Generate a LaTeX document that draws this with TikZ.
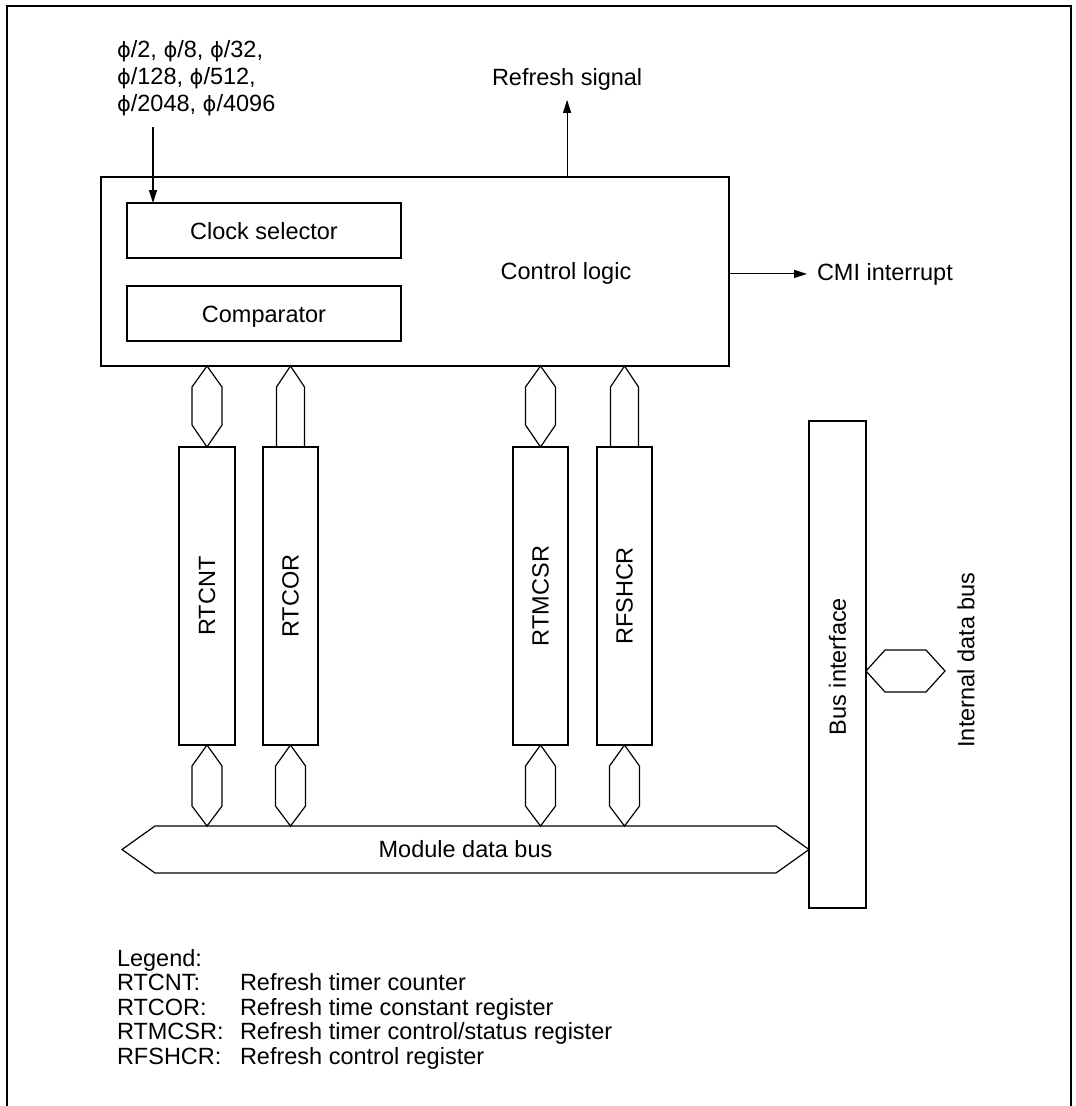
\documentclass[tikz,border=0pt]{standalone}
\usepackage{fontspec}
\setmainfont{Liberation Sans}
\newfontfamily\phifont{DejaVu Sans}
\usetikzlibrary{arrows.meta,calc}
\newcommand{\ph}{{\phifont\fontsize{21}{27}\selectfont ϕ}}
\begin{document}
\begin{tikzpicture}[x=1pt,y=-1pt,line width=1.2pt,
  box/.style={draw,line width=1.2pt,inner sep=0,outer sep=0,anchor=north west},
  txt/.style={inner sep=0,outer sep=0,font=\fontsize{23.5}{27}\selectfont},
  arr/.style={-{Triangle[length=13pt,width=8pt]},line width=1.1pt},
  bus/.style={draw,line width=1.2pt,line join=miter}]
\useasboundingbox (0,0) rectangle (1076,1106);
% frame
\draw[line width=2.4pt] (7,1106) -- (7,6) -- (1071,6) -- (1071,1106);

% boxes
\node[box,minimum width=628,minimum height=189] (ctl) at (101,177) {};
\node[box,minimum width=274,minimum height=55] (clk) at (127,203) {};
\node[box,minimum width=274,minimum height=55] (cmp) at (127,286) {};
\node[box,minimum width=56,minimum height=298] (rtcnt) at (179,447) {};
\node[box,minimum width=55,minimum height=298] (rtcor) at (263,447) {};
\node[box,minimum width=55,minimum height=298] (rtmcsr) at (513,447) {};
\node[box,minimum width=55,minimum height=298] (rfshcr) at (597,447) {};
\node[box,minimum width=57,minimum height=487] (busif) at (809,421) {};

% labels in boxes
\node[txt,anchor=base] (clkt) at (264,239) {Clock selector};
\node[txt,anchor=base] (cmpt) at (264,322) {Comparator};
\node[txt,anchor=base] (ctlt) at (566,279.5) {Control logic};
\node[txt,rotate=90] (rtcntt) at (rtcnt.center) {RTCNT};
\node[txt,rotate=90] (rtcort) at (rtcor.center) {RTCOR};
\node[txt,rotate=90] (rtmcsrt) at (rtmcsr.center) {RTMCSR};
\node[txt,rotate=90] (rfshcrt) at (rfshcr.center) {RFSHCR};
\node[txt,rotate=90] (busift) at ([yshift=-2pt]busif.center) {Bus interface};
\node[txt,rotate=90] (idb) at (966,660) {Internal data bus};

% input clocks text
\node[txt,anchor=base west] (ph1) at (117,57) {\ph/2, \ph/8, \ph/32,};
\node[txt,anchor=base west] (ph2) at (117,84) {\ph/128, \ph/512,};
\node[txt,anchor=base west] (ph3) at (117,111) {\ph/2048, \ph/4096};
\coordinate (clkin) at (153,127);
\draw[arr] (clkin) -- (clkin |- clk.north);

% refresh signal
\node[txt,anchor=base west] (rs) at (492,85) {Refresh signal};
\draw[arr] (ctl.north -| rs.south) -- ([yshift=-10pt]rs.south);

% CMI interrupt
\node[txt,anchor=base west] (cmi) at (817,280) {CMI interrupt};
\draw[arr] (ctl.east |- cmi.west) -- ([xshift=-10pt]cmi.west);

% bidirectional register connectors (top)
\foreach \r in {rtcnt,rtmcsr}{
  \coordinate (a) at (ctl.south -| \r.north);
  \draw[bus] (a) -- ($(a)+(15,21)$) -- ($(\r.north)+(15,-22)$) -- (\r.north)
    -- ($(\r.north)+(-15,-22)$) -- ($(a)+(-15,21)$) -- cycle;
}
% one-way (write) connectors (top)
\foreach \r in {rtcor,rfshcr}{
  \coordinate (a) at (ctl.south -| \r.north);
  \draw[bus] ($(\r.north)+(-14,0)$) -- ($(a)+(-14,21)$) -- (a) -- ($(a)+(14,21)$) -- ($(\r.north)+(14,0)$);
}

% module data bus
\coordinate (mR) at (busif.west |- 0,849.5);
\coordinate (mL) at (122,849.5);
\draw[bus] (mL) -- ($(mL)+(33,-23.5)$) -- ($(mR)+(-33,-23.5)$) -- (mR)
  -- ($(mR)+(-33,23.5)$) -- ($(mL)+(33,23.5)$) -- cycle;
\node[txt] (mdb) at ($(mL)!0.5!(mR)$) {Module data bus};

% bottom bidirectional connectors
\foreach \r in {rtcnt,rtcor,rtmcsr,rfshcr}{
  \coordinate (b) at (\r.south |- 0,826);
  \draw[bus] (\r.south) -- ($(\r.south)+(15,21)$) -- ($(b)+(15,-20)$) -- (b)
    -- ($(b)+(-15,-20)$) -- ($(\r.south)+(-15,21)$) -- cycle;
}

% internal data bus
\coordinate (iL) at (busif.east |- 0,671);
\coordinate (iR) at (945,671);
\draw[bus] (iL) -- ($(iL)+(19,-21)$) -- ($(iR)+(-19,-21)$) -- (iR)
  -- ($(iR)+(-19,21)$) -- ($(iL)+(19,21)$) -- cycle;

% legend
\node[txt,anchor=base west] (lg) at (117,966) {Legend:};
\node[txt,anchor=base west] (l1a) at (117,990.5) {RTCNT:};
\node[txt,anchor=base west] (l1b) at (240,990.5) {Refresh timer counter};
\node[txt,anchor=base west] (l2a) at (117,1015) {RTCOR:};
\node[txt,anchor=base west] (l2b) at (240,1015) {Refresh time constant register};
\node[txt,anchor=base west] (l3a) at (117,1039.5) {RTMCSR:};
\node[txt,anchor=base west] (l3b) at (240,1039.5) {Refresh timer control/status register};
\node[txt,anchor=base west] (l4a) at (117,1064) {RFSHCR:};
\node[txt,anchor=base west] (l4b) at (240,1064) {Refresh control register};
\end{tikzpicture}
\end{document}
